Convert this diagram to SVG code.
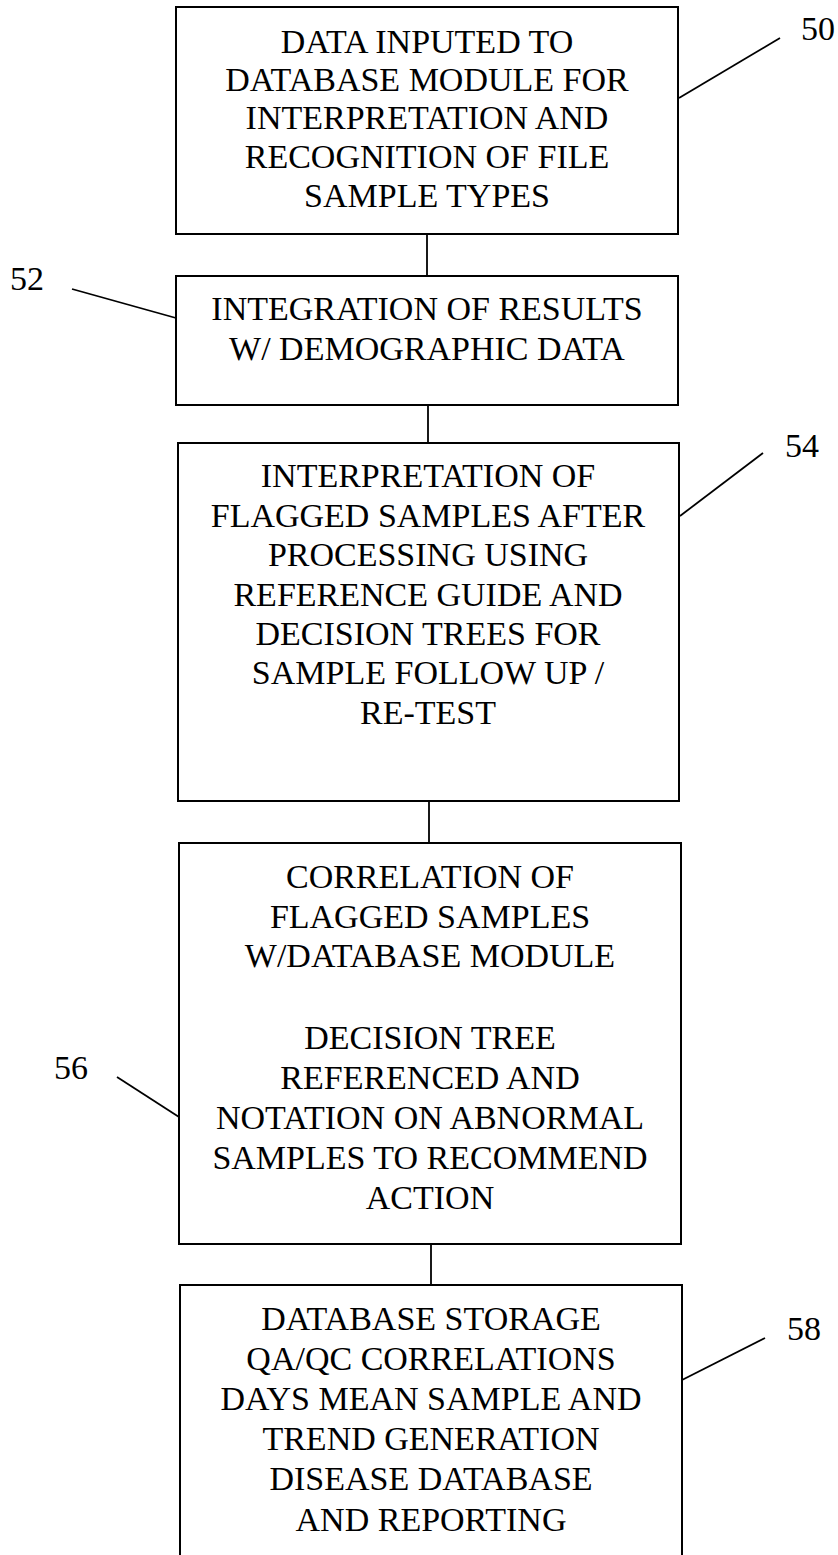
<svg xmlns="http://www.w3.org/2000/svg" width="838" height="1555" viewBox="0 0 838 1555">
<style>
.box{fill:#fff;stroke:#000;stroke-width:2}
.t{font-family:"Liberation Serif","Times New Roman",serif;font-size:34px;fill:#000;text-anchor:middle}
.lbl{font-family:"Liberation Serif","Times New Roman",serif;font-size:34px;fill:#000}
.ln{stroke:#000;stroke-width:1.8;fill:none}
</style>
<rect width="838" height="1555" fill="#fff"/>
<g id="connectors">
<line class="ln" x1="427" y1="234" x2="427" y2="275"/>
<line class="ln" x1="428" y1="405" x2="428" y2="442"/>
<line class="ln" x1="429" y1="801" x2="429" y2="843"/>
<line class="ln" x1="431" y1="1244" x2="431" y2="1285"/>
</g>
<g id="n50">
<rect class="box" x="176" y="7" width="502" height="227"/>
<text class="t" x="427" y="53">DATA INPUTED TO</text>
<text class="t" x="427" y="91">DATABASE MODULE FOR</text>
<text class="t" x="427" y="129">INTERPRETATION AND</text>
<text class="t" x="427" y="168">RECOGNITION OF FILE</text>
<text class="t" x="427" y="207">SAMPLE TYPES</text>
<line class="ln" x1="679" y1="98" x2="780" y2="38"/>
<text class="lbl" x="801" y="40">50</text>
</g>
<g id="n52">
<rect class="box" x="176" y="276" width="502" height="129"/>
<text class="t" x="427" y="320">INTEGRATION OF RESULTS</text>
<text class="t" x="427" y="360">W/ DEMOGRAPHIC DATA</text>
<line class="ln" x1="72" y1="289" x2="176" y2="318"/>
<text class="lbl" x="10" y="290">52</text>
</g>
<g id="n54">
<rect class="box" x="178" y="443" width="501" height="358"/>
<text class="t" x="428" y="487">INTERPRETATION OF</text>
<text class="t" x="428" y="527">FLAGGED SAMPLES AFTER</text>
<text class="t" x="428" y="566">PROCESSING USING</text>
<text class="t" x="428" y="606">REFERENCE GUIDE AND</text>
<text class="t" x="428" y="645">DECISION TREES FOR</text>
<text class="t" x="428" y="684">SAMPLE FOLLOW UP /</text>
<text class="t" x="428" y="724">RE-TEST</text>
<line class="ln" x1="680" y1="516" x2="763" y2="453"/>
<text class="lbl" x="785" y="457">54</text>
</g>
<g id="n56">
<rect class="box" x="179" y="843" width="502" height="401"/>
<text class="t" x="430" y="888">CORRELATION OF</text>
<text class="t" x="430" y="928">FLAGGED SAMPLES</text>
<text class="t" x="430" y="967">W/DATABASE MODULE</text>
<text class="t" x="430" y="1049">DECISION TREE</text>
<text class="t" x="430" y="1089">REFERENCED AND</text>
<text class="t" x="430" y="1129">NOTATION ON ABNORMAL</text>
<text class="t" x="430" y="1169">SAMPLES TO RECOMMEND</text>
<text class="t" x="430" y="1209">ACTION</text>
<line class="ln" x1="117" y1="1077" x2="179" y2="1117"/>
<text class="lbl" x="54" y="1079">56</text>
</g>
<g id="n58">
<rect class="box" x="180" y="1285" width="502" height="300"/>
<text class="t" x="431" y="1330">DATABASE STORAGE</text>
<text class="t" x="431" y="1370">QA/QC CORRELATIONS</text>
<text class="t" x="431" y="1410">DAYS MEAN SAMPLE AND</text>
<text class="t" x="431" y="1450">TREND GENERATION</text>
<text class="t" x="431" y="1490">DISEASE DATABASE</text>
<text class="t" x="431" y="1531">AND REPORTING</text>
<line class="ln" x1="682" y1="1380" x2="765" y2="1338"/>
<text class="lbl" x="787" y="1340">58</text>
</g>
</svg>
